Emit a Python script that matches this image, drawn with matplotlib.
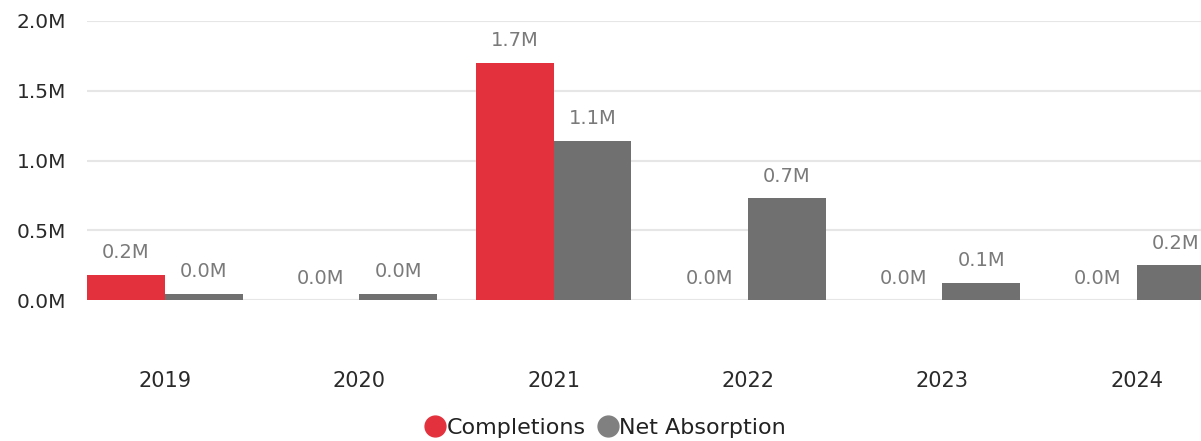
import matplotlib
matplotlib.use("Agg")
import matplotlib.pyplot as plt
from matplotlib.lines import Line2D
import numpy as np

years = ["2019", "2020", "2021", "2022", "2023", "2024"]
completions = [0.18, 0.0, 1.70, 0.0, 0.0, 0.0]
net_absorption = [0.045, 0.045, 1.14, 0.73, 0.125, 0.25]
completions_labels = ["0.2M", "0.0M", "1.7M", "0.0M", "0.0M", "0.0M"]
absorption_labels = ["0.0M", "0.0M", "1.1M", "0.7M", "0.1M", "0.2M"]
yticks = [0.0, 0.5, 1.0, 1.5, 2.0]
ytick_labels = ["0.0M", "0.5M", "1.0M", "1.5M", "2.0M"]

RED = "#e3313d"
GRAY = "#707070"
FONT = ["DejaVu Sans"]
plt.rcParams["font.family"] = FONT

W, H = 1201, 441
fig = plt.figure(figsize=(W / 100, H / 100), dpi=100)
left = 87 / W
right = 1214.5 / W
bottom = (H - 300) / H
top = (H - 21) / H
ax = fig.add_axes([left, bottom, right - left, top - bottom])

x = np.arange(len(years))
bw = 0.4
ax.bar(x - bw / 2, completions, width=bw, color=RED, zorder=3)
ax.bar(x + bw / 2, net_absorption, width=bw, color=GRAY, zorder=3)

for xi, v, lab in zip(x - bw / 2, completions, completions_labels):
    ax.annotate(lab, (xi, v), xytext=(0, 9), textcoords="offset points",
                ha="center", va="bottom", fontsize=14, color="#7a7a7a")
for xi, v, lab in zip(x + bw / 2, net_absorption, absorption_labels):
    ax.annotate(lab, (xi, v), xytext=(0, 9), textcoords="offset points",
                ha="center", va="bottom", fontsize=14, color="#7a7a7a")

ax.set_xlim(-0.4, len(years) - 1 + 0.4)
ax.set_ylim(0, 2.0)
ax.set_yticks(yticks)
ax.set_yticklabels(ytick_labels, fontsize=14.5, color="#2a2a2a")
ax.set_xticks(x)
ax.set_xticklabels(years, fontsize=15, color="#2a2a2a")
ax.tick_params(axis="x", length=0, pad=51)
ax.tick_params(axis="y", length=0, pad=15)
ax.yaxis.grid(True, color="#e6e6e6", linewidth=1.5, zorder=0)
ax.set_axisbelow(True)
for s in ax.spines.values():
    s.set_visible(False)

handles = [
    Line2D([], [], marker="o", linestyle="none", markersize=15, color=RED, label="Completions"),
    Line2D([], [], marker="o", linestyle="none", markersize=15, color="#808080", label="Net Absorption"),
]
fig.legend(handles=handles, loc="center", bbox_to_anchor=(605 / W, (H - 428) / H),
           ncol=2, frameon=False, fontsize=16, handletextpad=0.0, columnspacing=0.5,
           handlelength=1.0, labelcolor="#222222", borderpad=0.1)

fig.savefig("out.png", dpi=100)
